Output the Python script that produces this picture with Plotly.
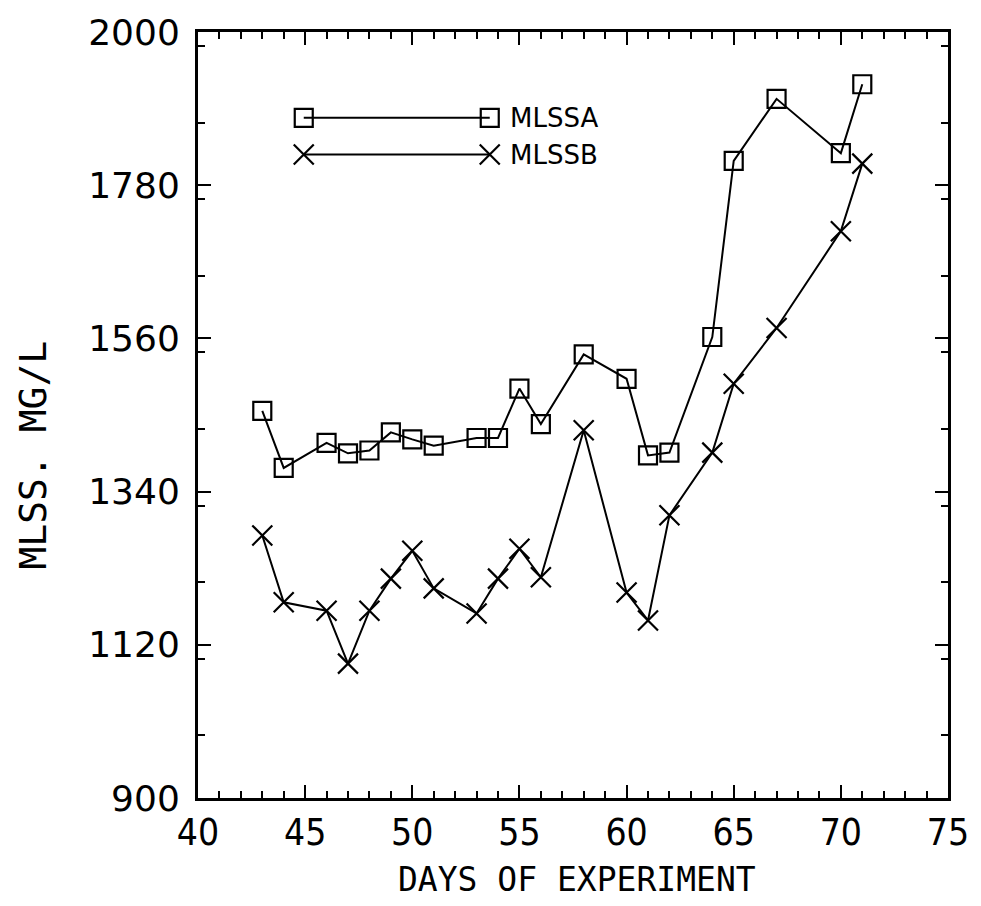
import plotly.graph_objects as go

days_a = [43, 44, 46, 47, 48, 49, 50, 51, 53, 54, 55, 56, 58, 60, 61, 62, 64, 65, 67, 70, 71]
mlss_a = [1456, 1374, 1410, 1395, 1399, 1425, 1415, 1406, 1417, 1417, 1488, 1437, 1537, 1502, 1392, 1396, 1562, 1815, 1904, 1826, 1925]

days_b = [43, 44, 46, 47, 48, 49, 50, 51, 53, 54, 55, 56, 58, 60, 61, 62, 64, 65, 67, 70, 71]
mlss_b = [1277, 1181, 1169, 1093, 1169, 1215, 1255, 1201, 1165, 1215, 1258, 1217, 1428, 1195, 1155, 1306, 1396, 1495, 1575, 1714, 1811]

y_ticks = [900, 1120, 1340, 1560, 1780, 2000]
x_ticks = [40, 45, 50, 55, 60, 65, 70, 75]
series_names = ["MLSSA", "MLSSB"]
x_title = "DAYS OF EXPERIMENT"
y_title = "MLSS. MG/L"

# legend sample positions (fraction of plot area)
leg_x = [0.141, 0.389]
leg_y = [0.888, 0.840]

black = "#000000"
mono = "DejaVu Sans Mono, monospace"
fig = go.Figure()
fig.add_trace(go.Scatter(
    x=days_a, y=mlss_a, mode="lines+markers",
    line=dict(color=black, width=2),
    marker=dict(symbol="square-open", size=18, color=black, line=dict(width=2.2, color=black)),
    showlegend=False))
fig.add_trace(go.Scatter(
    x=days_b, y=mlss_b, mode="lines+markers",
    line=dict(color=black, width=2),
    marker=dict(symbol="x-thin-open", size=20, color=black, line=dict(width=2.2, color=black)),
    showlegend=False))

# legend samples drawn on an overlay axis
syms = ["square-open", "x-thin-open"]
sizes = [18, 20]
for name, yy, sym, sz in zip(series_names, leg_y, syms, sizes):
    fig.add_trace(go.Scatter(
        x=leg_x, y=[yy, yy], xaxis="x2", yaxis="y2", mode="lines+markers",
        line=dict(color=black, width=2),
        marker=dict(symbol=sym, size=sz, color=black, line=dict(width=2.2, color=black)),
        showlegend=False, hoverinfo="skip"))
    fig.add_annotation(x=leg_x[1] + 0.024, y=yy, xref="x2", yref="y2", text=name,
                       showarrow=False, xanchor="left", yanchor="middle",
                       font=dict(family="DejaVu Sans", size=26, color=black))

# axis titles
fig.add_annotation(x=0.505, y=-0.107, xref="paper", yref="paper", text=x_title,
                   showarrow=False, xanchor="center", yanchor="middle",
                   font=dict(family=mono, size=33, color=black))
fig.add_annotation(x=-0.22, y=0.447, xref="paper", yref="paper", text=y_title,
                   showarrow=False, xanchor="center", yanchor="middle", textangle=-90,
                   font=dict(family=mono, size=38, color=black))

fig.update_layout(
    width=981, height=906,
    margin=dict(l=198, r=24, t=31, b=108),
    paper_bgcolor="white", plot_bgcolor="white",
    xaxis=dict(
        range=[40, 75], tickmode="array", tickvals=x_ticks,
        ticktext=[str(v) for v in x_ticks],
        ticks="inside", ticklen=13, tickwidth=2, tickcolor=black,
        minor=dict(dtick=1, ticks="inside", ticklen=7, tickwidth=2, tickcolor=black),
        showline=True, linecolor=black, linewidth=3, mirror="ticks",
        showgrid=False, zeroline=False,
        tickfont=dict(family="DejaVu Sans Condensed, DejaVu Sans", size=37, color=black),
    ),
    yaxis=dict(
        range=[900, 2000], tickmode="array", tickvals=y_ticks,
        ticktext=[str(v) for v in y_ticks],
        ticks="inside", ticklen=13, tickwidth=2, tickcolor=black,
        minor=dict(dtick=110, ticks="inside", ticklen=7, tickwidth=2, tickcolor=black),
        showline=True, linecolor=black, linewidth=3, mirror="ticks",
        showgrid=False, zeroline=False,
        tickfont=dict(family="DejaVu Sans", size=36, color=black),
        ticklabelstandoff=8,
    ),
    xaxis2=dict(range=[0, 1], overlaying="x", visible=False, fixedrange=True),
    yaxis2=dict(range=[0, 1], overlaying="y", visible=False, fixedrange=True),
)

fig.write_html("out.html")
